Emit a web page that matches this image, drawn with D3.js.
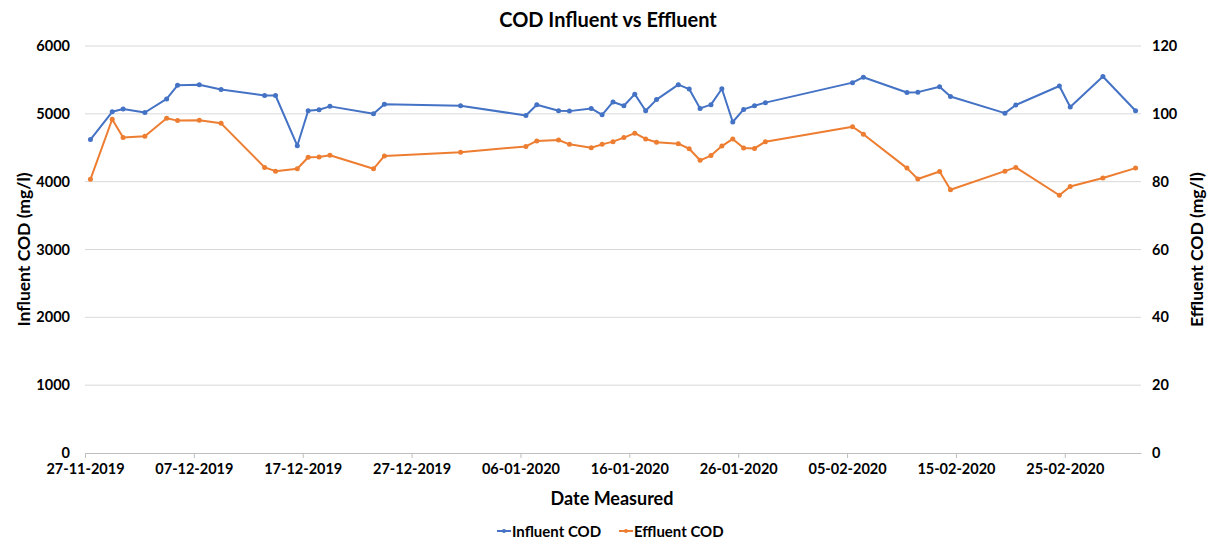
<!DOCTYPE html>
<html>
<head>
<meta charset="utf-8">
<script src="https://cdn.jsdelivr.net/npm/d3@7"></script>
<style>
  body { margin: 0; background: #fff; }
  svg text { font-family: Lato, "Open Sans", sans-serif; font-weight: bold; fill: #000; }
</style>
</head>
<body>
<script>
// measurement dates (dd-mm-yyyy)
var dates = ["27-11-2019","29-11-2019","30-11-2019","02-12-2019","04-12-2019","05-12-2019","07-12-2019","09-12-2019",
  "13-12-2019","14-12-2019","16-12-2019","17-12-2019","18-12-2019","19-12-2019","23-12-2019","24-12-2019","31-12-2019",
  "06-01-2020","07-01-2020","09-01-2020","10-01-2020","12-01-2020","13-01-2020","14-01-2020","15-01-2020","16-01-2020",
  "17-01-2020","18-01-2020","20-01-2020","21-01-2020","22-01-2020","23-01-2020","24-01-2020","25-01-2020","26-01-2020",
  "27-01-2020","28-01-2020","05-02-2020","06-02-2020","10-02-2020","11-02-2020","13-02-2020","14-02-2020","19-02-2020",
  "20-02-2020","24-02-2020","25-02-2020","28-02-2020","02-03-2020"];

var influent = [4620,5030,5070,5020,5220,5420,5430,5360,5270,5270,4530,5045,5060,5110,5000,5140,5120,
  4975,5135,5045,5040,5080,4985,5175,5120,5290,5045,5210,5430,5365,5080,5135,5370,4880,5065,5120,5165,
  5460,5540,5315,5320,5400,5255,5010,5130,5410,5100,5550,5045];

var effluent = [80.7,98.4,93.0,93.4,98.7,98.0,98.1,97.2,84.2,83.1,83.8,87.2,87.3,87.8,83.8,87.6,88.7,
  90.4,92.0,92.3,91.0,90.0,91.0,91.8,93.0,94.3,92.6,91.6,91.2,89.7,86.3,87.7,90.5,92.6,89.9,89.8,91.8,
  96.2,94.0,84.0,80.8,83.0,77.6,83.1,84.2,76.0,78.6,81.1,84.0];

var xTickLabels = ["27-11-2019","07-12-2019","17-12-2019","27-12-2019","06-01-2020","16-01-2020",
  "26-01-2020","05-02-2020","15-02-2020","25-02-2020"];
var leftTicks = [0,1000,2000,3000,4000,5000,6000];
var rightTicks = [0,20,40,60,80,100,120];
var axisStart = "27-11-2019", axisEnd = "03-03-2020";

var width = 1216, height = 541;
var plotLeft = 85, plotRight = 1141, plotTop = 46, plotBottom = 453;
var blue = "#4472C4", orange = "#ED7D31";

var parse = d3.utcParse("%d-%m-%Y");
var halfDay = 12*3600*1000;

var svg = d3.select("body").append("svg")
  .attr("width", width)
  .attr("height", height);

var x = d3.scaleUtc()
  .domain([parse(axisStart), parse(axisEnd)])
  .range([plotLeft, plotRight]);
var yL = d3.scaleLinear().domain([0,6000]).range([plotBottom, plotTop]);
var yR = d3.scaleLinear().domain([0,120]).range([plotBottom, plotTop]);

// gridlines
svg.append("g").selectAll("line").data(leftTicks.slice(1)).enter()
  .append("line")
  .attr("x1", plotLeft).attr("x2", plotRight)
  .attr("y1", function(d){return yL(d);}).attr("y2", function(d){return yL(d);})
  .attr("stroke", "#d9d9d9").attr("stroke-width", 1);

// x axis
var xAxis = d3.axisBottom(x)
  .tickValues(xTickLabels.map(parse))
  .tickFormat(d3.utcFormat("%d-%m-%Y"))
  .tickSizeInner(5).tickSizeOuter(0).tickPadding(6);
var gx = svg.append("g").attr("transform", "translate(0," + plotBottom + ")").call(xAxis);
gx.select(".domain").attr("stroke", "#bfbfbf");
gx.selectAll(".tick line").attr("stroke", "#bfbfbf");
gx.selectAll("text").style("font-size", "14.5px");

// left axis
var gl = svg.append("g").attr("transform", "translate(" + plotLeft + ",0)")
  .call(d3.axisLeft(yL).tickValues(leftTicks).tickFormat(d3.format("d")).tickSize(0).tickPadding(15));
gl.select(".domain").remove();
gl.selectAll("text").style("font-size", "14.5px");

// right axis
var gr = svg.append("g").attr("transform", "translate(" + plotRight + ",0)")
  .call(d3.axisRight(yR).tickValues(rightTicks).tickSize(0).tickPadding(11));
gr.select(".domain").remove();
gr.selectAll("text").style("font-size", "14.5px");

// series
function drawSeries(values, yScale, color){
  var pts = dates.map(function(d,i){ return {t: new Date(+parse(d) + halfDay), v: values[i]}; });
  var line = d3.line().x(function(d){return x(d.t);}).y(function(d){return yScale(d.v);});
  svg.append("path").datum(pts)
    .attr("d", line)
    .attr("fill", "none")
    .attr("stroke", color)
    .attr("stroke-width", 2)
    .attr("stroke-linejoin", "round");
  svg.append("g").selectAll("circle").data(pts).enter()
    .append("circle")
    .attr("cx", function(d){return x(d.t);})
    .attr("cy", function(d){return yScale(d.v);})
    .attr("r", 2.5)
    .attr("fill", color);
}
drawSeries(influent, yL, blue);
drawSeries(effluent, yR, orange);

// titles
svg.append("text").attr("x", 608).attr("y", 27).attr("text-anchor", "middle")
  .style("font-size", "20px").text("COD Influent vs Effluent");
svg.append("text").attr("x", 612).attr("y", 505).attr("text-anchor", "middle")
  .style("font-size", "18px").text("Date Measured");
svg.append("text").attr("transform", "translate(30," + ((plotTop+plotBottom)/2) + ") rotate(-90)")
  .attr("text-anchor", "middle").style("font-size", "17.5px").text("Influent COD (mg/l)");
svg.append("text").attr("transform", "translate(1203," + ((plotTop+plotBottom)/2) + ") rotate(-90)")
  .attr("text-anchor", "middle").style("font-size", "17.5px").text("Effluent COD (mg/l)");

// legend
var legendItems = [{name: "Influent COD", color: blue, x: 497}, {name: "Effluent COD", color: orange, x: 619}];
var lg = svg.append("g").selectAll("g").data(legendItems).enter().append("g")
  .attr("transform", function(d){return "translate(" + d.x + ",531)";});
lg.append("line").attr("x1", 0).attr("x2", 14).attr("y1", 0).attr("y2", 0)
  .attr("stroke", function(d){return d.color;}).attr("stroke-width", 2);
lg.append("circle").attr("cx", 7).attr("cy", 0).attr("r", 2).attr("fill", function(d){return d.color;});
lg.append("text").attr("x", 15).attr("y", 5.5).style("font-size", "15px").text(function(d){return d.name;});
</script>
</body>
</html>
